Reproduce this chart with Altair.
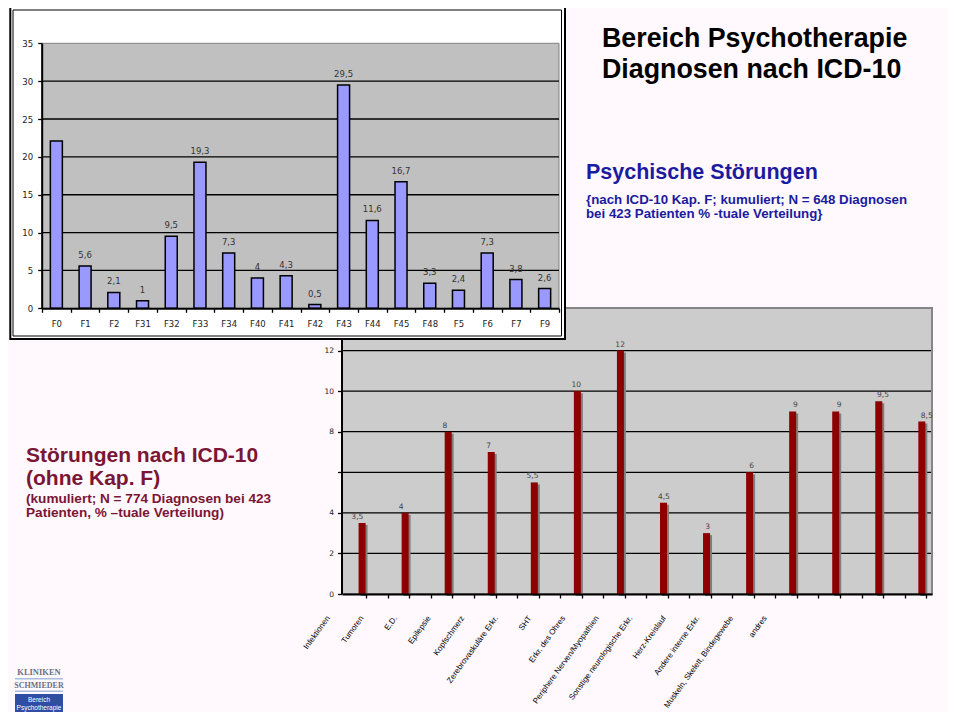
import altair as alt
import pandas as pd

# ---------------- data ----------------
f_codes = ["F0", "F1", "F2", "F31", "F32", "F33", "F34", "F40", "F41", "F42",
           "F43", "F44", "F45", "F48", "F5", "F6", "F7", "F9"]
f_values = [22.1, 5.6, 2.1, 1.0, 9.5, 19.3, 7.3, 4.0, 4.3, 0.5,
            29.5, 11.6, 16.7, 3.3, 2.4, 7.3, 3.8, 2.6]
f_labels = ["", "5,6", "2,1", "1", "9,5", "19,3", "7,3", "4", "4,3", "0,5",
            "29,5", "11,6", "16,7", "3,3", "2,4", "7,3", "3,8", "2,6"]
f_ticks = [0, 5, 10, 15, 20, 25, 30, 35]
f_grid = [5, 10, 15, 20, 25, 30]

o_names = ["Infektionen", "Tumoren", "E.D.", "Epilepsie", "Kopfschmerz",
           "Zerebrovaskuläre Erkr.", "SHT", "Erkr. des Ohres",
           "Periphere Nerven/Myopathien", "Sonstige neurologische Erkr.",
           "Herz-Kreislauf", "Andere interne Erkr.",
           "Muskeln, Skelett, Bindegewebe", "andres"]
o_values = [3.5, 4, 8, 7, 5.5, 10, 12, 4.5, 3, 6, 9, 9, 9.5, 8.5]
o_labels = ["3,5", "4", "8", "7", "5,5", "10", "12", "4,5", "3", "6", "9", "9", "9,5", "8,5"]
o_ticks = [0, 2, 4, 6, 8, 10, 12]
o_grid = [2, 4, 6, 8, 10, 12]
o_slot_ticks = [0.1 + 0.5 * m for m in range(27)]

title_lines = ["Bereich Psychotherapie", "Diagnosen nach ICD-10"]
psy_title = "Psychische Störungen"
psy_sub = ["{nach ICD-10 Kap. F; kumuliert; N = 648 Diagnosen",
           "bei 423 Patienten % -tuale Verteilung}"]
oth_title = ["Störungen nach ICD-10", "(ohne Kap. F)"]
oth_sub = ["(kumuliert; N = 774 Diagnosen bei 423",
           "Patienten, % –tuale Verteilung)"]

# ---------------- setup ----------------
W, H = 940, 704
BG = "#FFF8FC"
BLUE = "#1B1BA0"
MAROON = "#7B1535"

top_df = pd.DataFrame({"code": f_codes, "value": f_values, "label": f_labels})
top_grid_df = pd.DataFrame({"g": f_grid})
oth_df = pd.DataFrame({"idx": list(range(len(o_names))), "name": o_names,
                       "value": o_values, "label": o_labels})
oth_grid_df = pd.DataFrame({"g": o_grid})
one = pd.DataFrame({"k": [0]})

top_x = alt.Scale(domain=f_codes, range=[34, 551], paddingInner=0, paddingOuter=0)
top_y = alt.Scale(domain=[0, 35], range=[300.3, 35.3], nice=False, zero=False)
oth_x = alt.Scale(domain=[-0.35, 13.12], range=[334, 924], nice=False, zero=False)
oth_y = alt.Scale(domain=[0, 12.57], range=[586, 331], nice=False, zero=False)
oth_lab_x = alt.Scale(domain=[0, 13], range=[320.7, 757.5], nice=False, zero=False)


def rect(x, x2, y, y2, **kw):
    return alt.Chart(one).mark_rect(**kw).encode(
        x=alt.value(x), x2=alt.value(x2), y=alt.value(y), y2=alt.value(y2))


def text(x, y, txt, **kw):
    return alt.Chart(one).mark_text(text=txt, **kw).encode(x=alt.value(x), y=alt.value(y))


# ---------------- bottom chart ----------------
oth_bg = rect(334, 924, 300, 586, fill="#CCCCCC", stroke="#858585", strokeWidth=2)
oth_grid = alt.Chart(oth_grid_df).mark_rule(color="black", strokeWidth=1.3).encode(
    y=alt.Y("g:Q", scale=oth_y, axis=None), x=alt.value(334), x2=alt.value(923))
oth_shadow = alt.Chart(oth_df).mark_bar(size=7, color="#7F7F7F", xOffset=2, yOffset=2,
                                        orient="vertical").encode(
    x=alt.X("idx:Q", scale=oth_x, axis=None),
    y=alt.Y("value:Q", scale=oth_y, axis=None))
oth_bars = alt.Chart(oth_df).mark_bar(size=7, color="#8E0000", orient="vertical").encode(
    x=alt.X("idx:Q", scale=oth_x, title=None,
            axis=alt.Axis(orient="bottom", offset=-(H - 586), values=o_slot_ticks,
                          labels=False, grid=False, domainColor="black", domainWidth=2,
                          tickColor="black", tickWidth=1.3, tickSize=4, zindex=1)),
    y=alt.Y("value:Q", scale=oth_y, title=None,
            axis=alt.Axis(orient="left", offset=-333.5, values=o_ticks, grid=False,
                          labelExpr="datum.value == 6 ? '' : datum.label",
                          domainColor="black", domainWidth=2, tickColor="black",
                          tickWidth=1.3, tickSize=4, labelPadding=4,
                          labelFont="DejaVu Sans", labelFontSize=7.5,
                          labelColor="#222222", zindex=1)))
oth_vals = alt.Chart(oth_df).mark_text(font="DejaVu Sans", fontSize=7.5, color="#444444",
                                       dy=-4, baseline="alphabetic").encode(
    x=alt.X("idx:Q", scale=oth_x, axis=None),
    y=alt.Y("value:Q", scale=oth_y, axis=None),
    text="label:N")
oth_names = alt.Chart(oth_df).mark_text(align="right", baseline="middle", angle=306,
                                        font="Liberation Sans", fontSize=8,
                                        color="black").encode(
    x=alt.X("idx:Q", scale=oth_lab_x, axis=None),
    y=alt.value(609),
    text="name:N")

# ---------------- top chart ----------------
frame_outer = rect(2.3, 557, -1, 331, fill="white", stroke="black", strokeWidth=2)
frame_inner = rect(5, 553.5, 2, 328, fill="white", fillOpacity=0, stroke="black",
                   strokeWidth=1)
top_bg = rect(34, 551, 35.3, 300.3, fill="#C0C0C0", stroke="#808080", strokeWidth=1)
top_grid = alt.Chart(top_grid_df).mark_rule(color="black", strokeWidth=1.3).encode(
    y=alt.Y("g:Q", scale=top_y, axis=None), x=alt.value(34), x2=alt.value(551))
top_bars = alt.Chart(top_df).mark_bar(size=12, color="#9999FF", stroke="black",
                                      strokeWidth=1.5).encode(
    x=alt.X("code:N", scale=top_x, sort=f_codes, title=None,
            axis=alt.Axis(orient="bottom", offset=-(H - 300.3), tickBand="extent",
                          labelAngle=0, grid=False, domainColor="black", domainWidth=2,
                          tickColor="black", tickWidth=1.3, tickSize=4, labelPadding=7,
                          labelFont="DejaVu Sans", labelFontSize=8.5,
                          labelColor="#222222", zindex=1)),
    y=alt.Y("value:Q", scale=top_y, title=None,
            axis=alt.Axis(orient="left", offset=-33.7, values=f_ticks, grid=False,
                          domainColor="black", domainWidth=2, tickColor="black",
                          tickWidth=1.3, tickSize=4, labelPadding=5,
                          labelFont="DejaVu Sans", labelFontSize=8.5,
                          labelColor="#222222", zindex=1)))
top_vals = alt.Chart(top_df).mark_text(font="DejaVu Sans", fontSize=8.5, color="#333333",
                                       dy=-8, baseline="alphabetic").encode(
    x=alt.X("code:N", scale=top_x, sort=f_codes, axis=None),
    y=alt.Y("value:Q", scale=top_y, axis=None),
    text="label:N")

# ---------------- texts ----------------
t_title = text(594, 38.7, title_lines, align="left", baseline="alphabetic",
               font="Liberation Sans", fontWeight="bold", fontSize=26.8, lineHeight=31,
               color="black")
t_psy = text(578, 171.3, psy_title, align="left", baseline="alphabetic",
             font="Liberation Sans", fontWeight="bold", fontSize=21.5, color=BLUE)
t_psy_sub = text(578, 196, psy_sub, align="left", baseline="alphabetic",
                 font="Liberation Sans", fontWeight="bold", fontSize=13.3, lineHeight=14.3,
                 color=BLUE)
t_oth = text(18, 453.7, oth_title, align="left", baseline="alphabetic",
             font="Liberation Sans", fontWeight="bold", fontSize=21, lineHeight=23.3,
             color=MAROON)
t_oth_sub = text(18, 494.7, oth_sub, align="left", baseline="alphabetic",
                 font="Liberation Sans", fontWeight="bold", fontSize=13.6, lineHeight=14,
                 color=MAROON)

# ---------------- logo ----------------
logo_k = text(31, 667, "KLINIKEN", align="center", baseline="alphabetic",
              font="Liberation Serif", fontWeight="bold", fontSize=8.5, color="#6A7080")
logo_l1 = rect(7, 55, 670, 671.5, fill="#A9BCE0")
logo_s = text(31, 680, "SCHMIEDER", align="center", baseline="alphabetic",
              font="Liberation Serif", fontWeight="bold", fontSize=8, color="#6A7080")
logo_l2 = rect(7, 55, 682.5, 684, fill="#A9BCE0")
logo_box = rect(7, 55, 686, 704, fill="#2E4DA3")
logo_t1 = text(31, 694, "Bereich", align="center", baseline="alphabetic",
               font="Liberation Sans", fontSize=6.5, color="white")
logo_t2 = text(31, 701.5, "Psychotherapie", align="center", baseline="alphabetic",
               font="Liberation Sans", fontSize=6.5, color="white")

chart = alt.layer(
    oth_bg, oth_grid, oth_shadow, oth_bars, oth_vals, oth_names,
    frame_outer, frame_inner, top_bg, top_grid, top_bars, top_vals,
    t_title, t_psy, t_psy_sub, t_oth, t_oth_sub,
    logo_k, logo_l1, logo_s, logo_l2, logo_box, logo_t1, logo_t2,
).resolve_scale(x="independent", y="independent").properties(
    width=W, height=H, background=BG, padding=0,
    autosize=alt.AutoSizeParams(type="none"),
).configure_view(stroke=None)

chart.save("out.html", embed_options={"renderer": "svg", "actions": False})
